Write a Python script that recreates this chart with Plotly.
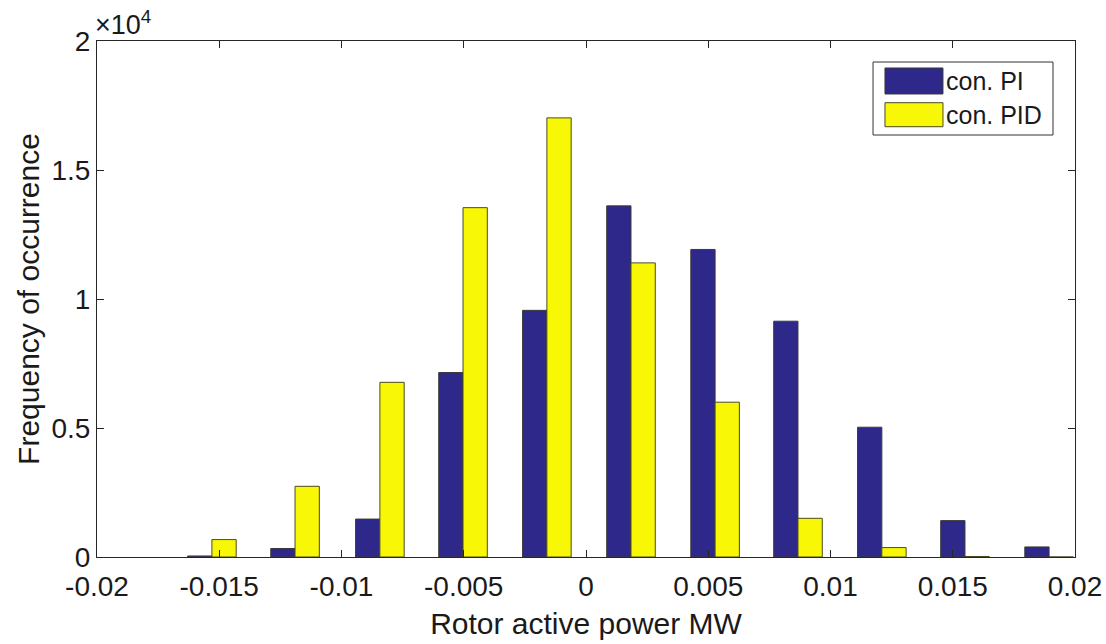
import plotly.graph_objects as go

bin_centers = [-0.0153, -0.0119, -0.00843, -0.00503, -0.0016, 0.00184, 0.00528, 0.00867, 0.0121, 0.0155, 0.01894]
pi_counts = [40, 330, 1470, 7150, 9560, 13610, 11920, 9140, 5030, 1410, 390]
pid_counts = [675, 2740, 6770, 13540, 17020, 11400, 6000, 1500, 365, 20, 0]
series_names = ["con. PI", "con. PID"]
series_colors = ["rgb(46,40,138)", "rgb(248,248,6)"]
edge_colors = ["#3a3a3a", "#4a4a20"]

x_ticks = [-0.02, -0.015, -0.01, -0.005, 0, 0.005, 0.01, 0.015, 0.02]
x_ticklabels = ["-0.02", "-0.015", "-0.01", "-0.005", "0", "0.005", "0.01", "0.015", "0.02"]
y_ticks = [0, 5000, 10000, 15000, 20000]
y_ticklabels = ["0", "0.5", "1", "1.5", "2"]

font = "Liberation Sans, Arial, sans-serif"
ink = "#1a1a1a"

fig = go.Figure()
for vals, name, col, edge in zip([pi_counts, pid_counts], series_names, series_colors, edge_colors):
    fig.add_trace(go.Bar(x=bin_centers, y=vals, name=name, showlegend=False,
                         marker=dict(color=col, line=dict(color=edge, width=1))))

axis_common = dict(showline=True, linecolor="#262626", linewidth=1, mirror="ticks",
                   ticks="inside", ticklen=7, tickcolor="#262626", showgrid=False,
                   zeroline=False, automargin=False,
                   tickfont=dict(size=28, color=ink, family=font))

# hand-made MATLAB-style legend (box, wide swatches, labels)
shapes = [dict(type="rect", xref="paper", yref="paper", x0=0.7935, x1=0.9775, y0=0.8178, y1=0.9593,
               line=dict(color="#333", width=1), fillcolor="white", layer="above")]
sw_y = [(0.8973, 0.9477), (0.8339, 0.8804)]
for (y0, y1), col, edge in zip(sw_y, series_colors, edge_colors):
    shapes.append(dict(type="rect", xref="paper", yref="paper", x0=0.8057, x1=0.865, y0=y0, y1=y1,
                       line=dict(color=edge, width=1), fillcolor=col, layer="above"))
annotations = [dict(text="×10<sup>4</sup>", xref="paper", yref="paper", x=0, y=1,
                    xanchor="left", yanchor="bottom", showarrow=False, xshift=-4, yshift=-1,
                    font=dict(size=27, family=font, color=ink))]
for yc, name in zip([0.9225, 0.8566], series_names):
    annotations.append(dict(text=name, xref="paper", yref="paper", x=0.866, y=yc,
                            xanchor="left", yanchor="middle", showarrow=False,
                            font=dict(size=25, family=font, color=ink)))

fig.update_layout(
    width=1106, height=644,
    margin=dict(l=97, r=31, t=41, b=87),
    paper_bgcolor="white", plot_bgcolor="white",
    barmode="group", bargap=0.414, bargroupgap=0,
    font=dict(family=font, color=ink),
    showlegend=False,
    xaxis=dict(range=[-0.02, 0.02], tickvals=x_ticks, ticktext=x_ticklabels, ticklabelstandoff=4,
               title=dict(text="Rotor active power MW", font=dict(size=30, family=font), standoff=12),
               **axis_common),
    yaxis=dict(range=[0, 20000], tickvals=y_ticks, ticktext=y_ticklabels,
               title=dict(text="Frequency of occurrence", font=dict(size=30, family=font), standoff=2),
               **axis_common),
    shapes=shapes,
    annotations=annotations,
)

fig.write_html("out.html")
